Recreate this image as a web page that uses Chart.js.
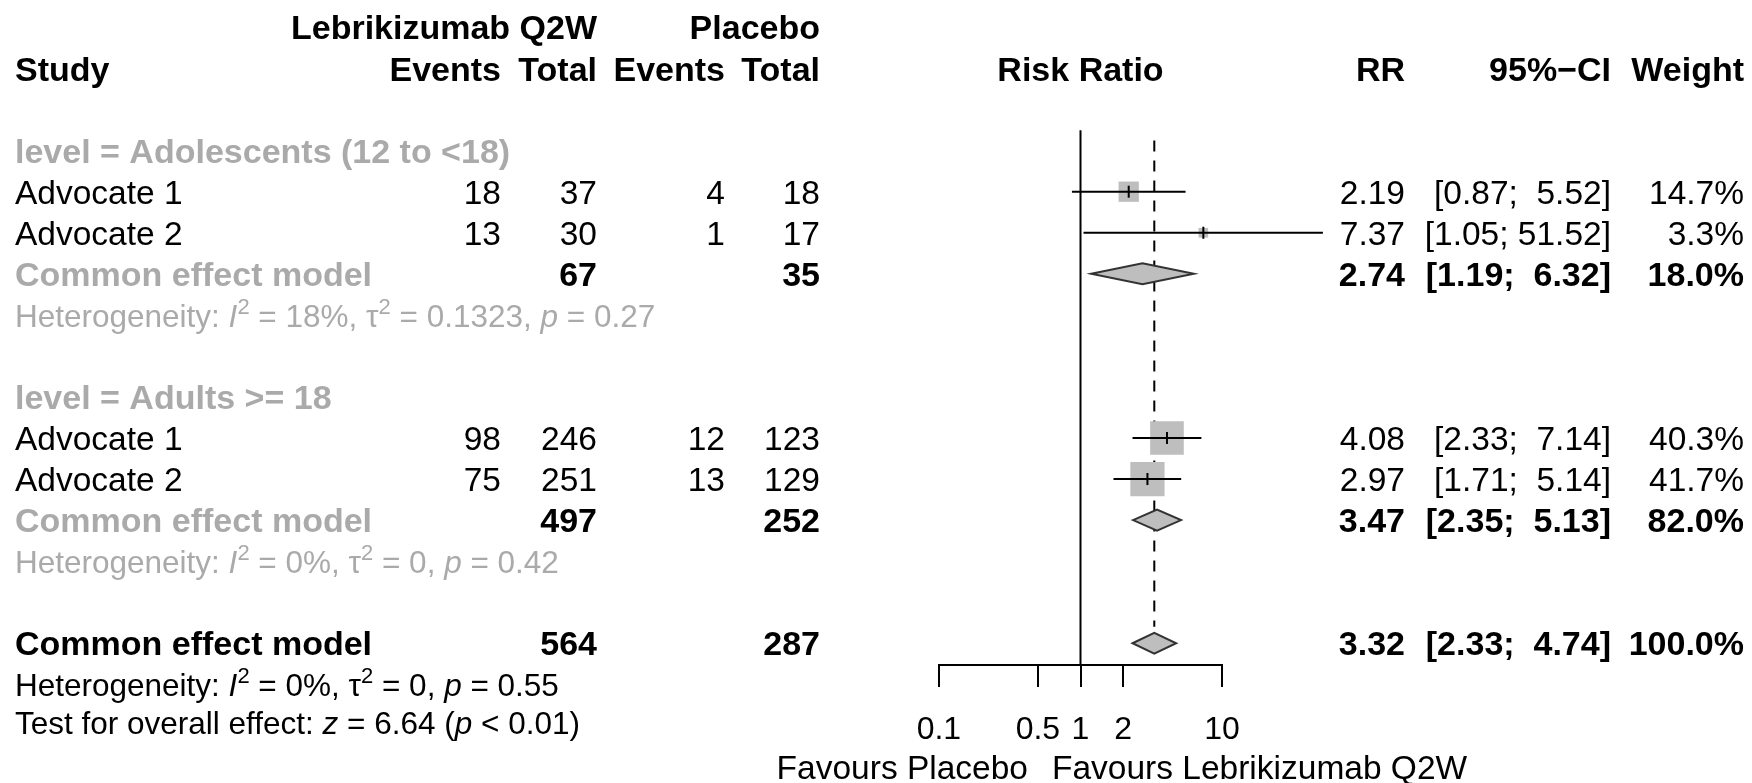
<!DOCTYPE html>
<html>
<head>
<meta charset="utf-8">
<script src="https://cdn.jsdelivr.net/npm/chart.js@4.4.1/dist/chart.umd.min.js"></script>
<style>
html,body{margin:0;padding:0;background:#fff;}
#wrap{width:1752px;height:783px;position:relative;}
</style>
</head>
<body>
<div id="wrap"><canvas id="c"></canvas></div>
<script>
// ---------------- DATA ----------------
const groupLabels = ['level = Adolescents (12 to <18)', 'level = Adults >= 18'];
const studyLabels = ['Advocate 1', 'Advocate 2', 'Advocate 1', 'Advocate 2'];
const studyGroup = [0, 0, 1, 1];
const lebEvents = [18, 13, 98, 75];
const lebTotal = [37, 30, 246, 251];
const pboEvents = [4, 1, 12, 13];
const pboTotal = [18, 17, 123, 129];
const studyRR = [2.19, 7.37, 4.08, 2.97];
const studyLow = [0.87, 1.05, 2.33, 1.71];
const studyHigh = [5.52, 51.52, 7.14, 5.14];
const studyWeight = [14.7, 3.3, 40.3, 41.7];

const groupRR = [2.74, 3.47];
const groupLow = [1.19, 2.35];
const groupHigh = [6.32, 5.13];
const groupWeight = [18.0, 82.0];
const groupLebTotal = [67, 497];
const groupPboTotal = [35, 252];
const groupI2 = ['18%', '0%'];
const groupTau2 = ['0.1323', '0'];
const groupP = ['0.27', '0.42'];

const overallRR = 3.32;
const overallLow = 2.33;
const overallHigh = 4.74;
const overallWeight = 100.0;
const overallLebTotal = 564;
const overallPboTotal = 287;
const overallI2 = '0%';
const overallTau2 = '0';
const overallP = '0.55';
const overallZ = '6.64';
const overallZp = '< 0.01';

const xTicks = [0.1, 0.5, 1, 2, 10];
const xTickLabels = ['0.1', '0.5', '1', '2', '10'];
const treatLabel = 'Lebrikizumab Q2W';
const ctrlLabel = 'Placebo';
const leftFavour = 'Favours Placebo';
const rightFavour = 'Favours Lebrikizumab Q2W';

// ---------------- LAYOUT (rows) ----------------
const studyRow = [], groupHeadRow = [], poolRow = [], hetRow = [];
(function () {
  let r = 3;
  for (let g = 0; g < groupLabels.length; g++) {
    groupHeadRow[g] = r++;
    studyLabels.forEach((s, i) => { if (studyGroup[i] === g) studyRow[i] = r++; });
    poolRow[g] = r++;
    hetRow[g] = r++;
    r++;
  }
})();
const overallRow = 15, overallHetRow = 16, testRow = 16.92;

const FAM = '"Liberation Sans", Arial, Helvetica, sans-serif';
const FS = 33.5, FSB = 34, FSH = 31.5;
const GRAY = '#aaaaaa';
const FILL = '#bebebe';

const fmt2 = v => v.toFixed(2);
const ciText = (lo, hi) => '[' + fmt2(lo) + '; ' + fmt2(hi).padStart(5, ' ') + ']';
const wText = w => w.toFixed(1) + '%';

function txt(ctx, s, x, y, align, bold, color, size) {
  ctx.font = (bold ? 'bold ' : '') + (size || (bold ? FSB : FS)) + 'px ' + FAM;
  ctx.fillStyle = color || '#000';
  ctx.textAlign = align || 'left';
  ctx.textBaseline = 'alphabetic';
  ctx.fillText(s, x, y);
}
function rich(ctx, segs, x, y, color) {
  ctx.textAlign = 'left';
  ctx.textBaseline = 'alphabetic';
  ctx.fillStyle = color;
  let cx = x;
  segs.forEach(([t, st]) => {
    let yy = y;
    if (st === 's') { ctx.font = Math.round(FSH * 0.7) + 'px ' + FAM; yy = y - 13; }
    else if (st === 'i') ctx.font = 'italic ' + FSH + 'px ' + FAM;
    else ctx.font = FSH + 'px ' + FAM;
    ctx.fillText(t, cx, yy);
    cx += ctx.measureText(t).width;
  });
}
const hetSegs = (i2, t2, p) => [['Heterogeneity: ', 'n'], ['I', 'i'], ['2', 's'], [' = ' + i2 + ', ', 'n'],
  ['\u03c4', 'n'], ['2', 's'], [' = ' + t2 + ', ', 'n'], ['p', 'i'], [' = ' + p, 'n']];

function diamond(ctx, x, y, est, lo, hi, row) {
  const py = y.getPixelForValue(row), h = 10.5;
  ctx.beginPath();
  ctx.moveTo(x.getPixelForValue(lo), py);
  ctx.lineTo(x.getPixelForValue(est), py - h);
  ctx.lineTo(x.getPixelForValue(hi), py);
  ctx.lineTo(x.getPixelForValue(est), py + h);
  ctx.closePath();
  ctx.fillStyle = FILL; ctx.fill();
  ctx.strokeStyle = '#333'; ctx.lineWidth = 2; ctx.stroke();
}

const forestPlugin = {
  id: 'forest',
  beforeDatasetsDraw(chart) {
    const { ctx, scales: { x, y } } = chart;
    ctx.save();
    ctx.strokeStyle = '#000'; ctx.lineWidth = 2;
    const x1 = x.getPixelForValue(1);
    ctx.beginPath(); ctx.moveTo(x1, y.getPixelForValue(2.5)); ctx.lineTo(x1, chart.chartArea.bottom); ctx.stroke();
    const xe = x.getPixelForValue(overallRR);
    ctx.setLineDash([11, 9]);
    ctx.beginPath(); ctx.moveTo(xe, y.getPixelForValue(2.75)); ctx.lineTo(xe, y.getPixelForValue(14.6)); ctx.stroke();
    ctx.restore();
  },
  afterDatasetsDraw(chart) {
    const { ctx, scales: { x, y } } = chart;
    ctx.save();
    ctx.strokeStyle = '#000'; ctx.lineWidth = 2;
    studyRR.forEach((v, i) => {
      const py = y.getPixelForValue(studyRow[i]);
      ctx.beginPath();
      ctx.moveTo(x.getPixelForValue(studyLow[i]), py);
      ctx.lineTo(x.getPixelForValue(studyHigh[i]), py);
      ctx.stroke();
      const px = x.getPixelForValue(v);
      ctx.beginPath(); ctx.moveTo(px, py - 6); ctx.lineTo(px, py + 6); ctx.stroke();
    });
    groupRR.forEach((v, g) => diamond(ctx, x, y, v, groupLow[g], groupHigh[g], poolRow[g]));
    diamond(ctx, x, y, overallRR, overallLow, overallHigh, overallRow);
    ctx.restore();
  },
  afterDraw(chart) {
    const { ctx, scales: { x, y } } = chart;
    const BL = r => y.getPixelForValue(r) + 0.358 * FS;
    const C_S = 15, C_LE = 501, C_LT = 597, C_PE = 725, C_PT = 820, C_RR = 1405, C_CI = 1611, C_W = 1744;
    ctx.save();
    // headers
    txt(ctx, treatLabel, C_LT, BL(0), 'right', true);
    txt(ctx, ctrlLabel, C_PT, BL(0), 'right', true);
    txt(ctx, 'Study', C_S, BL(1), 'left', true);
    txt(ctx, 'Events', C_LE, BL(1), 'right', true);
    txt(ctx, 'Total', C_LT, BL(1), 'right', true);
    txt(ctx, 'Events', C_PE, BL(1), 'right', true);
    txt(ctx, 'Total', C_PT, BL(1), 'right', true);
    txt(ctx, 'Risk Ratio', x.getPixelForValue(1), BL(1), 'center', true);
    txt(ctx, 'RR', C_RR, BL(1), 'right', true);
    txt(ctx, '95%\u2212CI', C_CI, BL(1), 'right', true);
    txt(ctx, 'Weight', C_W, BL(1), 'right', true);
    // groups
    groupLabels.forEach((g, gi) => {
      txt(ctx, g, C_S, BL(groupHeadRow[gi]), 'left', true, GRAY);
      txt(ctx, 'Common effect model', C_S, BL(poolRow[gi]), 'left', true, GRAY);
      txt(ctx, String(groupLebTotal[gi]), C_LT, BL(poolRow[gi]), 'right', true);
      txt(ctx, String(groupPboTotal[gi]), C_PT, BL(poolRow[gi]), 'right', true);
      txt(ctx, fmt2(groupRR[gi]), C_RR, BL(poolRow[gi]), 'right', true);
      txt(ctx, ciText(groupLow[gi], groupHigh[gi]), C_CI, BL(poolRow[gi]), 'right', true);
      txt(ctx, wText(groupWeight[gi]), C_W, BL(poolRow[gi]), 'right', true);
      rich(ctx, hetSegs(groupI2[gi], groupTau2[gi], groupP[gi]), C_S, BL(hetRow[gi]), GRAY);
    });
    studyLabels.forEach((s, i) => {
      const b = BL(studyRow[i]);
      txt(ctx, s, C_S, b, 'left');
      txt(ctx, String(lebEvents[i]), C_LE, b, 'right');
      txt(ctx, String(lebTotal[i]), C_LT, b, 'right');
      txt(ctx, String(pboEvents[i]), C_PE, b, 'right');
      txt(ctx, String(pboTotal[i]), C_PT, b, 'right');
      txt(ctx, fmt2(studyRR[i]), C_RR, b, 'right');
      txt(ctx, ciText(studyLow[i], studyHigh[i]), C_CI, b, 'right');
      txt(ctx, wText(studyWeight[i]), C_W, b, 'right');
    });
    // overall
    const bo = BL(overallRow);
    txt(ctx, 'Common effect model', C_S, bo, 'left', true);
    txt(ctx, String(overallLebTotal), C_LT, bo, 'right', true);
    txt(ctx, String(overallPboTotal), C_PT, bo, 'right', true);
    txt(ctx, fmt2(overallRR), C_RR, bo, 'right', true);
    txt(ctx, ciText(overallLow, overallHigh), C_CI, bo, 'right', true);
    txt(ctx, wText(overallWeight), C_W, bo, 'right', true);
    rich(ctx, hetSegs(overallI2, overallTau2, overallP), C_S, BL(overallHetRow), '#000');
    rich(ctx, [['Test for overall effect: ', 'n'], ['z', 'i'], [' = ' + overallZ + ' (', 'n'], ['p', 'i'], [' ' + overallZp + ')', 'n']],
      C_S, BL(testRow), '#000');
    // favours labels
    const x1 = x.getPixelForValue(1);
    txt(ctx, leftFavour, x1 - 52.5, 779, 'right');
    txt(ctx, rightFavour, x1 - 28.5, 779, 'left');
    ctx.restore();
  }
};

const sq = w => 5.3 * Math.sqrt(w) / Math.SQRT2;

new Chart(document.getElementById('c'), {
  type: 'scatter',
  data: {
    datasets: [{
      data: studyRR.map((v, i) => ({ x: v, y: studyRow[i] })),
      pointStyle: 'rect',
      pointRadius: studyWeight.map(sq),
      pointHoverRadius: studyWeight.map(sq),
      backgroundColor: FILL,
      borderWidth: 0,
      clip: false
    }]
  },
  options: {
    responsive: true,
    maintainAspectRatio: false,
    animation: false,
    devicePixelRatio: 1,
    events: [],
    layout: { autoPadding: false, padding: { left: 938.9, right: 529.9, top: 0, bottom: 0 } },
    plugins: { legend: { display: false }, tooltip: { enabled: false } },
    scales: {
      x: {
        type: 'logarithmic',
        position: 'bottom',
        min: 0.1,
        max: 10,
        afterBuildTicks: s => { s.ticks = xTicks.map(v => ({ value: v })); },
        afterFit: s => { s.height = 118; },
        grid: { drawOnChartArea: false, drawTicks: true, tickLength: 22, color: '#000', lineWidth: 2 },
        border: { display: true, color: '#000', width: 2 },
        ticks: {
          autoSkip: false, maxRotation: 0, minRotation: 0, padding: 24, color: '#000',
          font: { family: FAM, size: 32 },
          callback: (v, i) => xTickLabels[i]
        }
      },
      y: { type: 'linear', display: false, reverse: true, min: -0.67, max: 15.53 }
    }
  },
  plugins: [forestPlugin]
});
</script>
</body>
</html>
